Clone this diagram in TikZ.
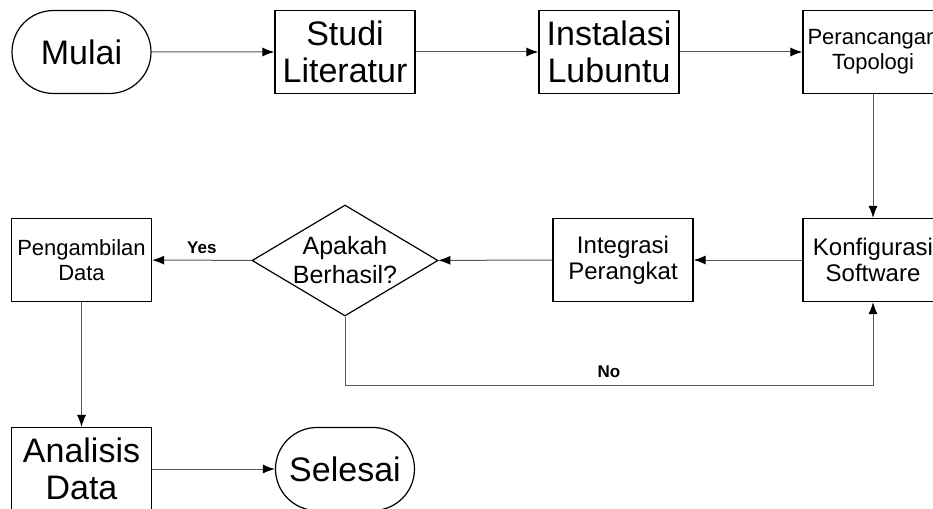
\documentclass[tikz,border=0pt]{standalone}
\usepackage{fontspec}
\setmainfont{Liberation Sans}
\usepackage{tikz}
\usetikzlibrary{arrows.meta,shapes}
\usetikzlibrary{positioning}
\tikzset{
    process/.style={draw=black, line width=1.2pt, rectangle, minimum width=140pt,
        minimum height=83pt, inner sep=0pt, align=center},
    terminal/.style={draw=black, line width=1.2pt, rounded rectangle, minimum width=139pt,
        minimum height=83pt, inner sep=0pt, align=center},
    decision/.style={draw=black, line width=1.2pt, diamond, aspect=1.68, minimum width=186pt,
        minimum height=111pt, inner sep=-6pt, align=center},
    flow/.style={draw=black!65, line width=1pt,
        -{Latex[length=12pt,width=9pt,color=black,fill=black]}},
    flowlabel/.style={font=\bfseries\fontsize{17}{20}\selectfont},
}
\newcommand{\bigtxt}{\fontsize{34}{37}\selectfont}
\newcommand{\midtxt}{\fontsize{24}{26}\selectfont}
\newcommand{\smalltxt}{\fontsize{22}{25}\selectfont}
\begin{document}
\begin{tikzpicture}[x=1pt, y=-1pt]
	\useasboundingbox (0,0) rectangle (933,508);
	% top row
	\node[terminal, font=\bigtxt] (mulai) at (81.5,52) {Mulai};
	\node[process, font=\bigtxt] (studi) at (345,52) {Studi\\Literatur};
	\node[process, font=\bigtxt] (instal) at (609,52) {Instalasi\\Lubuntu};
	\node[process, font=\smalltxt] (topo) at (873,52) {Perancangan\\Topologi};
	% middle row
	\node[process, font=\midtxt] (konfig) at (873,260) {Konfigurasi\\Software};
	\node[process, font=\midtxt] (integ) at (623,260) {Integrasi\\Perangkat};
	\node[decision, font=\fontsize{25}{29}\selectfont] (cek) at (345,260.5) {Apakah\\Berhasil?};
	\node[process, font=\smalltxt] (ambil) at (81.5,260) {Pengambilan\\Data};
	% bottom row
	\node[process, font=\bigtxt] (analisis) at (81.5,469) {Analisis\\Data};
	\node[terminal, font=\bigtxt] (selesai) at (345,469) {Selesai};
	\coordinate (noA) at (345,385);
	\coordinate (noB) at (873,385);

	\draw[flow] (mulai) -- (studi);
	\draw[flow] (studi) -- (instal);
	\draw[flow] (instal) -- (topo);
	\draw[flow] (topo) -- (konfig);
	\draw[flow] (konfig) -- (integ);
	\draw[flow] (integ) -- (cek);
	\draw[flow] (cek) -- node[flowlabel, above=3pt] {Yes} (ambil);
	\draw[flow] (ambil) -- (analisis);
	\draw[flow] (analisis) -- (selesai);
	\draw[flow] (cek.south) -- (noA) -- node[flowlabel, above=4pt] {No} (noB) -- (konfig.south);
\end{tikzpicture}
\end{document}
